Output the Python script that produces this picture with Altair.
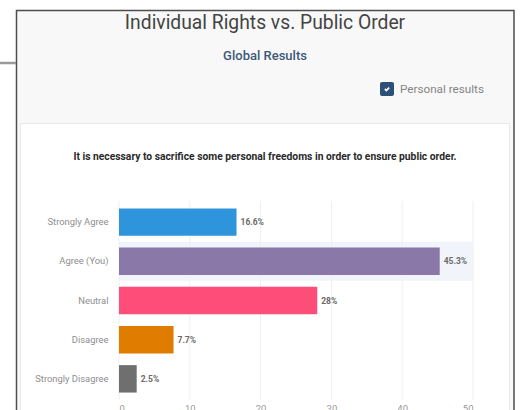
import altair as alt
import pandas as pd

categories = ["Strongly Agree", "Agree (You)", "Neutral", "Disagree", "Strongly Disagree"]
values = [16.6, 45.3, 28, 7.7, 2.5]
value_labels = ["16.6%", "45.3%", "28%", "7.7%", "2.5%"]
colors = ["#2e95dc", "#8a78a8", "#ff4d79", "#e07c00", "#6f6f6f"]
x_ticks = [0, 10, 20, 30, 40, 50]
highlight_category = "Agree (You)"

main_title = "Individual Rights vs. Public Order"
sub_title = "Global Results"
checkbox_label = "Personal results"
question = "It is necessary to sacrifice some personal freedoms in order to ensure public order."

df = pd.DataFrame({"category": categories, "value": values, "label": value_labels, "color": colors})
hl = pd.DataFrame({"category": [highlight_category], "x0": [x_ticks[0]], "x1": [x_ticks[-1]]})
grid_df = pd.DataFrame({"t": x_ticks})
one = alt.Data(values=[{}])

FONT = "Roboto"
W, H = 354, 199
L, T = 119, 201  # plot origin in page pixels

def px(x):
    return alt.value(x - L)

def py(y):
    return alt.value(y - T)

y_enc = alt.Y("category:N", sort=categories,
              scale=alt.Scale(paddingInner=0.3, paddingOuter=0.19),
              axis=alt.Axis(title=None, ticks=False, domain=False, labelPadding=11,
                            labelColor="#8e8e8e", labelFontSize=9.4, labelFont=FONT,
                            zindex=1))
x_scale = alt.Scale(domain=[0, 50], nice=False)

outer_box = alt.Chart(one).mark_rect(fill="#f8f8f8", stroke="#4d4d4d", strokeWidth=1.5).encode(
    x=px(16.5), x2=px(514), y=py(10.5), y2=py(440))
side_line = alt.Chart(one).mark_rule(stroke="#9a9a9a", strokeWidth=2.5).encode(
    x=px(0), x2=px(16), y=py(63))
card = alt.Chart(one).mark_rect(fill="white", stroke="#e8e8e8", strokeWidth=1).encode(
    x=px(20.5), x2=px(509.5), y=py(123.5), y2=py(440))

title_t = alt.Chart(one).mark_text(text=main_title, font=FONT, fontSize=19.3, color="#444444",
                                   baseline="middle", align="center").encode(x=px(265), y=py(23))
sub_t = alt.Chart(one).mark_text(text=sub_title, font=FONT, fontSize=13, fontWeight=500,
                                 color="#3d5878", baseline="middle", align="center").encode(
    x=px(265), y=py(56))
check_box = alt.Chart(one).mark_rect(fill="#2d5078", cornerRadius=2).encode(
    x=px(380), x2=px(394), y=py(82), y2=py(96))
check_mark = alt.Chart(one).mark_point(
    shape="M-0.55,0 L-0.15,0.4 L0.55,-0.35", filled=False, stroke="white", strokeWidth=1.8,
    size=60, opacity=1).encode(x=px(387), y=py(89))
check_t = alt.Chart(one).mark_text(text=checkbox_label, font=FONT, fontSize=11.7, color="#858585",
                                   baseline="middle", align="left").encode(x=px(400), y=py(88.5))
question_t = alt.Chart(one).mark_text(text=question, font=FONT, fontSize=10.3, fontWeight="bold",
                                      color="#2a2a2a", baseline="middle", align="center").encode(
    x=px(265), y=py(157))

highlight = alt.Chart(hl).mark_bar(height=39, color="#f1f5fb").encode(
    y=y_enc,
    x=alt.X("x0:Q", scale=x_scale,
            axis=alt.Axis(title=None, values=x_ticks, grid=False, ticks=False, domain=False,
                          labelColor="#9a9a9a", labelFontSize=9.5, labelFont=FONT, labelPadding=3,
                          zindex=1)),
    x2="x1:Q")

grid = alt.Chart(grid_df).mark_rule(color="#efefef", strokeWidth=1).encode(
    x=alt.X("t:Q", scale=x_scale), y=alt.value(0), y2=alt.value(H))

bars = alt.Chart(df).mark_bar().encode(
    y=y_enc,
    x=alt.X("value:Q", scale=x_scale),
    color=alt.Color("color:N", scale=None))

labels = alt.Chart(df).mark_text(align="left", baseline="middle", dx=4, font=FONT,
                                 fontSize=8.5, fontWeight="bold", color="#6a6a6a").encode(
    y=y_enc,
    x=alt.X("value:Q", scale=x_scale),
    text="label:N")

chart = alt.layer(
    outer_box, side_line, card, title_t, sub_t, check_box, check_mark, check_t, question_t,
    highlight, grid, bars, labels
).properties(
    width=W, height=H,
    autosize=alt.AutoSizeParams(type="none"),
    padding={"left": L, "top": T, "right": 521 - L - W, "bottom": 410 - T - H},
    background="white"
).configure_view(stroke=None)

chart.save("out.html", embed_options={"renderer": "svg", "actions": False})
